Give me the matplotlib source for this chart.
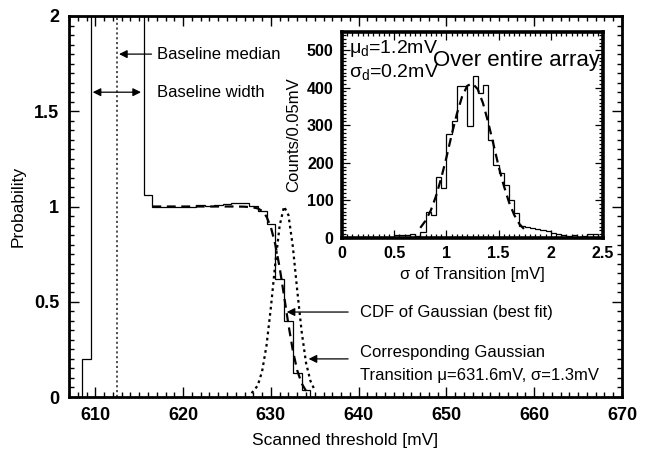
import numpy as np
import matplotlib.pyplot as plt
from matplotlib.ticker import MultipleLocator

plt.rcParams['font.family'] = ['Liberation Sans', 'DejaVu Sans']
plt.rcParams['mathtext.fontset'] = 'custom'
plt.rcParams['mathtext.rm'] = 'Liberation Sans'
plt.rcParams['mathtext.it'] = 'Liberation Sans:italic'

# main histogram, 1 mV bins centred on 609..634 (bins 610-615 run off the top)
thr_edges = np.arange(608.5, 635.0, 1.0)
thr_prob = [0.2, 2.5, 2.5, 2.5, 2.5, 2.5, 2.5, 1.06,
            1.0, 1.0, 1.0, 0.995, 1.0, 1.01, 1.005, 1.01, 1.015, 1.02, 1.02, 1.005,
            0.975, 0.91, 0.62, 0.40, 0.125, 0.035]

# best fit CDF (dashed)
cdf_x = [616.5, 618, 620, 622, 624, 626, 627, 628, 628.5, 629, 629.5, 630,
         630.5, 631, 631.5, 632, 632.5, 633, 633.5, 634]
cdf_y = [1.0, 1.0, 1.0, 1.0, 1.0, 1.0, 0.999, 0.995, 0.99, 0.977, 0.947, 0.891,
         0.801, 0.679, 0.531, 0.38, 0.244, 0.14, 0.072, 0.032]

# corresponding gaussian (dotted)
pdf_x = [627.8, 628.5, 629, 629.5, 630, 630.5, 631, 631.5, 632, 632.5, 633,
         633.5, 634, 634.5, 635]
pdf_y = [0.02, 0.06, 0.135, 0.27, 0.47, 0.70, 0.90, 1.0, 0.955, 0.79, 0.56,
         0.345, 0.18, 0.085, 0.035]

baseline_median = 612.5

# inset: sigma of transition over the array, 0.05 mV bins from 0.5 to 2.5
sig_edges = np.round(np.arange(0.5, 2.5001, 0.05), 2)
sig_counts = [8, 8, 8, 10, 5, 15, 68, 62, 163, 134, 277, 310, 405, 405, 298, 432,
              386, 407, 261, 195, 172, 141, 101, 66, 32, 30, 27, 25, 20, 18, 12,
              10, 8, 5, 8, 3, 5, 10, 10, 3]

fit_x = [0.75, 0.80, 0.85, 0.90, 0.95, 1.00, 1.05, 1.10, 1.15, 1.20, 1.25,
         1.30, 1.35, 1.40, 1.45, 1.50, 1.55, 1.60, 1.65, 1.70, 1.75]
fit_y = [27, 46, 73, 111, 159, 214, 274, 330, 376, 405, 411, 396, 359, 308,
         250, 191, 139, 95, 61, 37, 22]

fig = plt.figure(figsize=(6.45, 4.57), dpi=100)
ax = fig.add_axes([69/645, 60/457, 553/645, 381/457])

ax.stairs(thr_prob, thr_edges, color='black', lw=0.9)
ax.plot(cdf_x, cdf_y, color='black', lw=1.6, dashes=(4, 2.5))
ax.plot(pdf_x, pdf_y, color='black', lw=1.6, dashes=(1.2, 1.6))
ax.axvline(baseline_median, color='#333333', lw=1.2, dashes=(1.3, 1.6))

ax.set_xlim(607, 670)
ax.set_ylim(0, 2)
ax.set_xticks([610, 620, 630, 640, 650, 660, 670])
ax.set_yticks([0, 0.5, 1, 1.5, 2])
ax.set_yticklabels(['0', '0.5', '1', '1.5', '2'])
ax.xaxis.set_minor_locator(MultipleLocator(1))
ax.yaxis.set_minor_locator(MultipleLocator(0.05))
ax.tick_params(which='both', direction='in', top=True, right=True, width=1.0,
               labelsize=13, pad=7)
ax.tick_params(which='major', length=7)
ax.tick_params(which='minor', length=3.5)
for lab in ax.get_xticklabels() + ax.get_yticklabels():
    lab.set_fontweight('bold')
for s in ax.spines.values():
    s.set_linewidth(2.0)
ax.set_xlabel('Scanned threshold [mV]', fontsize=12.5, labelpad=7)
ax.set_ylabel('Probability', fontsize=12.5, labelpad=6)

arr = dict(arrowstyle='-|>', color='black', lw=0.9,
           mutation_scale=12, shrinkA=0, shrinkB=0)
ax.annotate('', xy=(612.7, 1.80), xytext=(616.4, 1.80), arrowprops=arr)
ax.text(617.0, 1.80, 'Baseline median', fontsize=12, va='center')
ax.annotate('', xy=(609.7, 1.60), xytext=(615.2, 1.60),
            arrowprops=dict(arr, arrowstyle='<|-|>'))
ax.text(617.0, 1.60, 'Baseline width', fontsize=12, va='center')
ax.annotate('', xy=(631.8, 0.446), xytext=(638.8, 0.446), arrowprops=arr)
ax.text(640.2, 0.446, 'CDF of Gaussian (best fit)', fontsize=12, va='center')
ax.annotate('', xy=(634.3, 0.20), xytext=(638.8, 0.20), arrowprops=arr)
ax.text(640.2, 0.235, 'Corresponding Gaussian', fontsize=12, va='center')
ax.text(640.2, 0.115, 'Transition μ=631.6mV, σ=1.3mV', fontsize=12, va='center')

# inset
ins = fig.add_axes([342/645, (457-238)/457, 261/645, 206/457])
ins.stairs(sig_counts, sig_edges, color='black', lw=0.9)
ins.plot(fit_x, fit_y, color='black', lw=1.6, dashes=(4, 2.5))
ins.set_xlim(0, 2.5)
ins.set_ylim(0, 548)
ins.set_xticks([0, 0.5, 1, 1.5, 2, 2.5])
ins.set_xticklabels(['0', '0.5', '1', '1.5', '2', '2.5'])
ins.set_yticks([0, 100, 200, 300, 400, 500])
ins.xaxis.set_minor_locator(MultipleLocator(0.05))
ins.yaxis.set_minor_locator(MultipleLocator(10))
ins.tick_params(which='both', direction='in', top=True, right=True, width=0.9,
                labelsize=11.5, pad=6)
ins.tick_params(which='major', length=6)
ins.tick_params(which='minor', length=3)
for lab in ins.get_xticklabels() + ins.get_yticklabels():
    lab.set_fontweight('bold')
for s in ins.spines.values():
    s.set_linewidth(2.6)
ins.set_xlabel('σ of Transition [mV]', fontsize=12, labelpad=4)
ins.set_ylabel('Counts/0.05mV', fontsize=12, labelpad=4)
ins.text(0.025, 0.92, r'μ$_{\mathrm{d}}$=1.2mV', transform=ins.transAxes,
         fontsize=14, va='center')
ins.text(0.025, 0.805, r'σ$_{\mathrm{d}}$=0.2mV', transform=ins.transAxes,
         fontsize=14, va='center')
ins.text(0.99, 0.86, 'Over entire array', transform=ins.transAxes,
         fontsize=16, va='center', ha='right')

fig.savefig('out.png', dpi=100)
